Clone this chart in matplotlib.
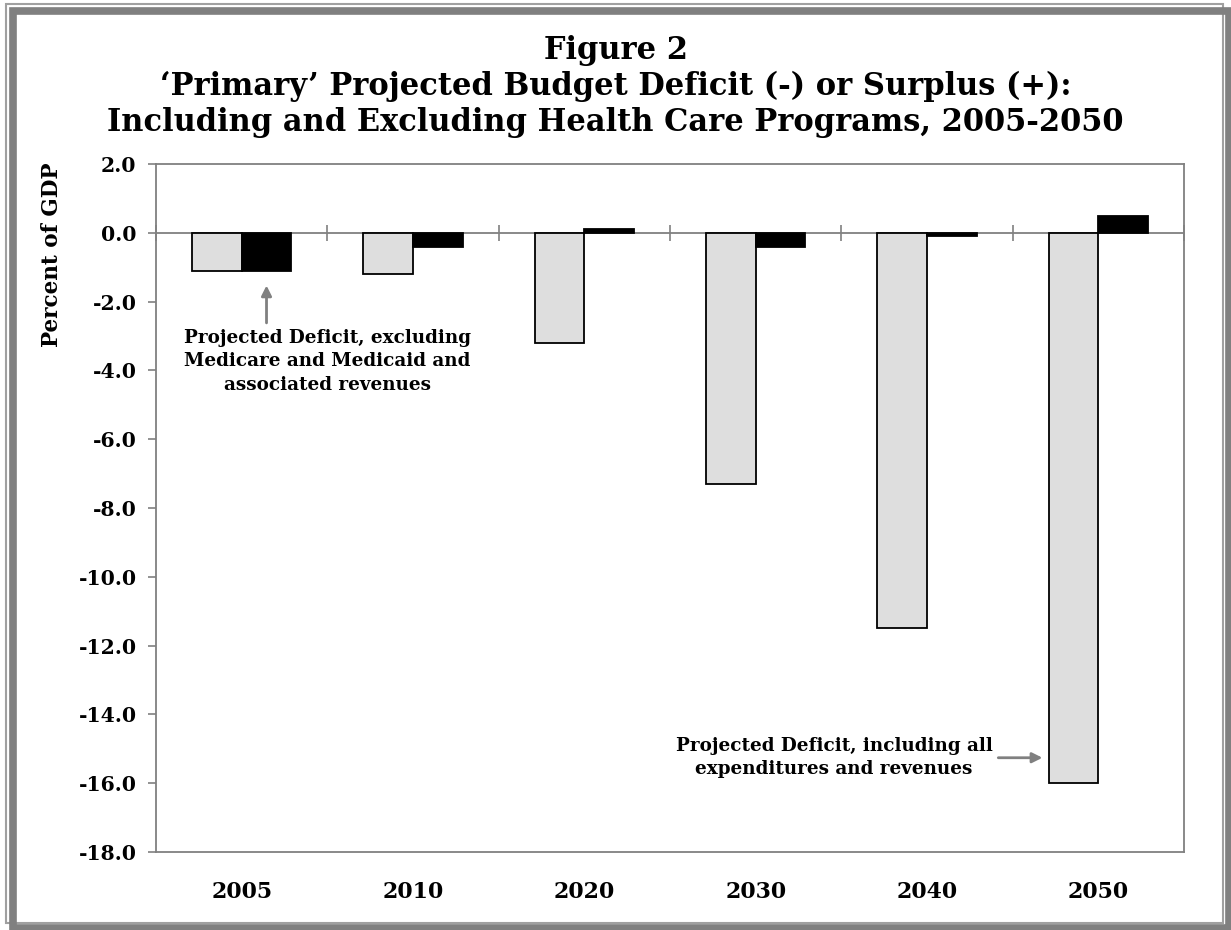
import numpy as np
import matplotlib.pyplot as plt
from matplotlib.patches import Rectangle

plt.rcParams.update({
    "font.family": "DejaVu Serif",
    "font.weight": "bold",
})

# Primary deficit (-) or surplus (+), percent of GDP
years = ["2005", "2010", "2020", "2030", "2040", "2050"]
incl_all = [-1.1, -1.2, -3.2, -7.3, -11.5, -16.0]
excl_health = [-1.1, -0.4, 0.1, -0.4, -0.1, 0.5]
y_ticks = [2.0, 0.0, -2.0, -4.0, -6.0, -8.0, -10.0, -12.0, -14.0, -16.0, -18.0]

GRAY = "#808080"
W, H = 1231, 930
fig = plt.figure(figsize=(W / 100, H / 100), dpi=100)

# double grey frame around the whole figure (pixel coords converted to figure fractions)
def frame(x0, y0, x1, y1, **kw):
    fig.patches.append(Rectangle((x0 / W, 1 - y1 / H), (x1 - x0) / W, (y1 - y0) / H,
                                 transform=fig.transFigure, fill=False, **kw))

frame(6, 4, 1223, 923, edgecolor="#a0a0a0", lw=1.5)
frame(13.5, 11, 1228.5, 927.5, edgecolor=GRAY, lw=5.5)

ax = fig.add_axes([156 / W, 1 - 852 / H, (1184 - 156) / W, (852 - 164) / H])

x = np.arange(len(years))
bw = 0.29
ax.bar(x - bw / 2, incl_all, bw, color="#dedede", edgecolor="black", lw=1.3, zorder=2)
ax.bar(x + bw / 2, excl_health, bw, color="black", edgecolor="black", lw=1.3, zorder=2)

ax.set_xlim(-0.5, len(years) - 0.5)
ax.set_ylim(-18, 2)
ax.set_yticks(y_ticks)
ax.set_yticklabels([f"{v:.1f}" for v in y_ticks], fontsize=14.7, fontweight="bold")
ax.set_xticks(x)
ax.set_xticklabels(years, fontsize=15.8, fontweight="bold")
ax.tick_params(axis="x", length=0, pad=21)
ax.tick_params(axis="y", length=6, width=1.2, color=GRAY, pad=8)
for s in ax.spines.values():
    s.set_color(GRAY)
    s.set_linewidth(1.3)

# category axis at zero with crossing tick marks between groups
ax.axhline(0, color=GRAY, lw=1.3, zorder=1)
bounds = np.arange(len(years) + 1) - 0.5
ax.plot(bounds, np.zeros_like(bounds), ls="none", marker="|", ms=12, mew=1.2,
        color=GRAY, zorder=1, clip_on=False)

fig.text(52 / W, 1 - 255 / H, "Percent of GDP", rotation=90, ha="center", va="center",
         fontsize=15.5, fontweight="bold")

title = ["Figure 2",
         "\u2018Primary\u2019 Projected Budget Deficit (-) or Surplus (+):",
         "Including and Excluding Health Care Programs, 2005-2050"]
for i, line in enumerate(title):
    fig.text(0.5, 1 - (59 + 36 * i) / H, line, ha="center", va="baseline",
             fontsize=22, fontweight="bold")

ax.annotate("", xy=(bw / 2, -1.45), xytext=(bw / 2, -2.7),
            arrowprops=dict(arrowstyle="-|>", color=GRAY, lw=2, mutation_scale=15))
ax.text(0.5, -2.8, "Projected Deficit, excluding\nMedicare and Medicaid and\nassociated revenues",
        ha="center", va="top", fontsize=13.2, fontweight="bold", linespacing=1.38)

ax.annotate("", xy=(4.69, -15.26), xytext=(4.40, -15.26),
            arrowprops=dict(arrowstyle="-|>", color=GRAY, lw=2, mutation_scale=15))
ax.text(3.457, -15.26, "Projected Deficit, including all\nexpenditures and revenues",
        ha="center", va="center", fontsize=13.2, fontweight="bold", linespacing=1.38)

fig.savefig("out.png", dpi=100)
